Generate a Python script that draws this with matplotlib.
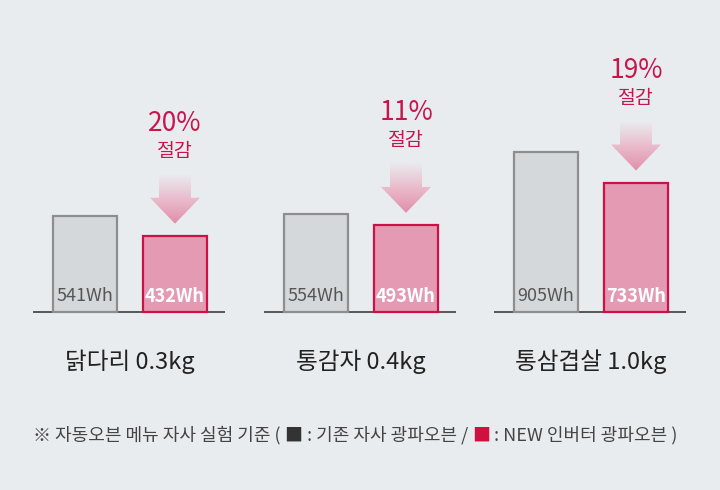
import numpy as np
import matplotlib
matplotlib.use("Agg")
import matplotlib.pyplot as plt
from matplotlib.patches import Polygon
from matplotlib.colors import LinearSegmentedColormap

plt.rcParams['font.family'] = ['Noto Sans CJK KR', 'DejaVu Sans']

# --- data ---
categories = ["닭다리 0.3kg", "통감자 0.4kg", "통삼겹살 1.0kg"]
old_wh = [541, 554, 905]      # 기존 자사 광파오븐
new_wh = [432, 493, 733]      # NEW 인버터 광파오븐
savings = ["20%", "11%", "19%"]
footnote_parts = [
    ("※ 자동오븐 메뉴 자사 실험 기준 ( ", "#444444"),
    ("■", "#333333"),
    (" : 기존 자사 광파오븐 / ", "#444444"),
    ("■", "#d0103f"),
    (" : NEW 인버터 광파오븐 )", "#444444"),
]

# --- style ---
BG = "#e9ecef"
GREY_FILL = "#d4d8db"
GREY_EDGE = "#8e8e8e"
PINK_FILL = "#e59ab4"
PINK_EDGE = "#cc1048"
RED_TXT = "#c8164d"

W, H = 720, 490
SCALE = 0.1766          # pixels per Wh
BASE_PX = 312           # baseline, pixels from top
group_left = [53, 284, 514]
BAR_W = 64
PAIR_GAP = 90


def ypx(p):
    # pixel row (from top) -> data y
    return (BASE_PX - p) / SCALE


def dpx(p):
    # pixel length -> data length
    return p / SCALE


fig = plt.figure(figsize=(7.2, 4.9), dpi=100)
fig.patch.set_facecolor(BG)
ax = fig.add_axes([0, 0, 1, 1])
ax.set_facecolor(BG)
ax.axis("off")

cmap = LinearSegmentedColormap.from_list(
    "arrow", [(0, BG), (0.55, "#e9b7c8"), (1, "#e18eaa")])

for i, gx in enumerate(group_left):
    x_old = gx
    x_new = gx + PAIR_GAP
    # baseline
    ax.plot([gx - 20, gx + PAIR_GAP + BAR_W + 18], [0, 0],
            color="#555555", lw=1.4, solid_capstyle="butt", zorder=1)
    ax.bar(x_old, old_wh[i], width=BAR_W, align="edge", bottom=0,
           color=GREY_FILL, edgecolor=GREY_EDGE, linewidth=1.6, zorder=2)
    ax.bar(x_new, new_wh[i], width=BAR_W, align="edge", bottom=0,
           color=PINK_FILL, edgecolor=PINK_EDGE, linewidth=1.6, zorder=2)

    ax.text(x_old + BAR_W / 2, dpx(16), f"{old_wh[i]}Wh", ha="center",
            va="center", fontsize=13, color="#555555", zorder=3)
    ax.text(x_new + BAR_W / 2, dpx(16), f"{new_wh[i]}Wh", ha="center",
            va="center", fontsize=13, color="white", fontweight="bold",
            zorder=3)

    # arrow with gradient
    cx = x_new + BAR_W / 2
    top = new_wh[i]
    tip = top + dpx(12)
    head_top = tip + dpx(26)
    shaft_top = head_top + dpx(24)
    pts = [(cx - 16, shaft_top), (cx + 16, shaft_top), (cx + 16, head_top),
           (cx + 25, head_top), (cx, tip), (cx - 25, head_top),
           (cx - 16, head_top)]
    poly = Polygon(pts, closed=True, facecolor="none", edgecolor="none")
    ax.add_patch(poly)
    grad = np.linspace(1, 0, 100).reshape(-1, 1)
    im = ax.imshow(grad, cmap=cmap, aspect="auto", vmin=0, vmax=1,
                   extent=(cx - 25, cx + 25, tip, shaft_top),
                   origin="lower", zorder=2)
    im.set_clip_path(poly)

    ax.text(cx, top + dpx(112), savings[i], ha="center", va="center",
            fontsize=19, color=RED_TXT)
    ax.text(cx, top + dpx(84), "절감", ha="center", va="center",
            fontsize=14, color=RED_TXT)

    ax.text(gx + (PAIR_GAP + BAR_W) / 2, ypx(362), categories[i],
            ha="center", va="center", fontsize=17, color="#222222")

ax.set_xlim(0, W)
ax.set_ylim(ypx(H), ypx(0))

# footnote, pieces chained one after another
prev = ax.text(33, ypx(435), footnote_parts[0][0], ha="left",
               va="center", fontsize=13, color=footnote_parts[0][1])
for txt, col in footnote_parts[1:]:
    prev = ax.annotate(txt, xy=(1, 0), xycoords=prev, ha="left",
                       va="bottom", fontsize=13, color=col)

fig.savefig("out.png", dpi=100, facecolor=BG)
